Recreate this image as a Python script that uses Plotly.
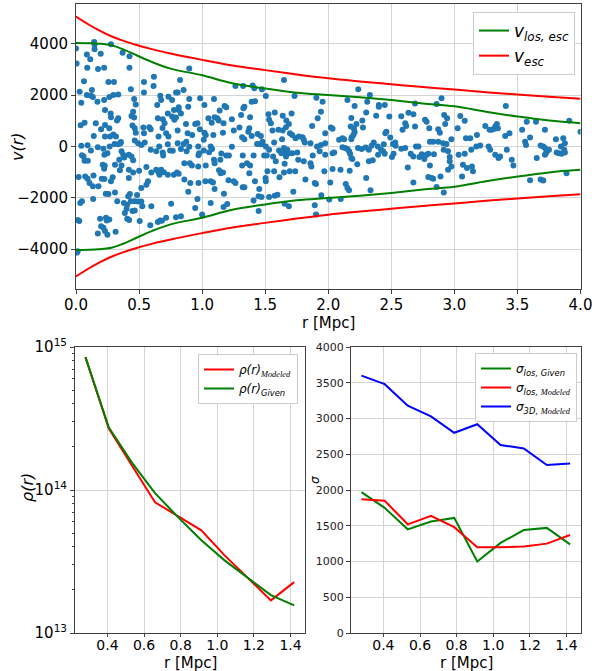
import plotly.graph_objects as go

# ---------------- data ----------------
# galaxy sample (r [Mpc], v [km/s])
galaxy_r_v = [
(0.0,3820),(0.005,3240),(0.086,3590),(0.113,3400),(0.089,3070),(0.144,4080),(0.147,3970),(0.147,3790),
(0.196,3620),(0.277,3990),(0.175,3020),(0.223,3070),(0.369,3660),(0.424,3520),(0.424,3070),(0.063,2550),
(0.257,2520),(0.301,2520),(0.539,2520),(0.618,2720),(0.615,2360),(0.825,2590),(0.898,3040),(0.029,2140),
(0.126,2200),(0.086,2010),(0.118,1980),(0.134,1930),(0.17,1750),(0.223,1810),(0.042,1710),(0.264,1930),
(0.296,2010),(0.335,2030),(0.435,2230),(0.461,1850),(0.474,1640),(0.539,2110),(0.668,1980),(0.644,1620),
(0.675,1810),(0.762,1810),(0.733,1940),(0.793,2110),(0.806,2110),(0.853,2200),(0.984,1880),(0.898,1850),
(0.89,1550),(0.814,1530),(0.814,1420),(0.832,1290),(0.777,1420),(0.728,1290),(0.762,1170),(0.78,1040),
(0.793,1130),(0.23,1420),(0.275,1290),(0.277,1140),(0.23,840),(0.264,710),(0.335,1100),(0.325,1010),
(0.453,1360),(0.44,1190),(0.461,1130),(0.448,820),(0.466,710),(0.474,540),(0.037,830),(0.068,930),
(0.157,910),(0.199,670),(0.141,410),(0.23,390),(0.27,390),(0.296,470),(0.317,390),(0.356,180),
(0.306,100),(0.466,230),(0.539,520),(0.534,740),(0.581,750),(0.592,670),(0.649,1100),(0.688,1060),
(0.702,910),(0.686,720),(0.715,520),(0.733,390),(0.654,390),(0.806,620),(0.872,880),(0.885,520),
(0.921,450),(0.945,880),(0.963,910),(0.874,190),(0.853,100),(0.969,0),(0.976,-260),(0.898,-10),
(0.042,30),(0.092,50),(0.047,-340),(0.06,-390),(0.068,-560),(0.094,-560),(0.118,-160),(0.173,-30),
(0.217,-90),(0.225,-320),(0.249,-260),(0.267,0),(0.335,90),(0.353,130),(0.361,-190),(0.374,-320),
(0.382,-430),(0.343,-520),(0.309,-710),(0.361,-740),(0.419,-320),(0.44,-390),(0.453,-540),(0.492,130),
(0.518,60),(0.545,160),(0.592,-130),(0.636,-190),(0.66,0),(0.688,-230),(0.691,-350),(0.728,90),
(0.746,-160),(0.767,-170),(0.806,130),(0.832,-100),(0.877,-190),(0.859,-650),(0.903,-650),(0.919,-740),
(0.969,-780),(0.971,-340),(0.021,-1190),(0.073,-1170),(0.092,-1260),(0.139,-1130),(0.107,-1420),(0.134,-1550),
(0.204,-1260),(0.225,-1270),(0.212,-710),(0.228,-750),(0.223,-870),(0.291,-1200),(0.277,-1360),(0.348,-930),
(0.419,-910),(0.453,-1010),(0.419,-1230),(0.5,-950),(0.558,-800),(0.597,-1010),(0.636,-910),(0.654,-1000),
(0.675,-910),(0.696,-1000),(0.728,-1100),(0.662,-1100),(0.775,-1100),(0.801,-1010),(0.814,-1060),(0.859,-1290),
(0.906,-1420),(0.971,-1420),(0.571,-1360),(0.558,-1490),(0.518,-1620),(0.484,-1890),(0.427,-1850),(0.414,-1940),
(0.309,-1790),(0.236,-1840),(0.257,-1850),(0.178,-1550),(0.136,-2050),(0.034,-2200),(0.047,-2140),(0.327,-2140),
(0.38,-2200),(0.406,-2270),(0.435,-2140),(0.466,-2140),(0.492,-2150),(0.518,-2150),(0.526,-2330),(0.466,-2500),
(0.387,-2590),(0.401,-2430),(0.448,-2520),(0.597,-2330),(0.754,-2230),(0.89,-1770),(0.963,-2050),(0.945,-2400),
(0.013,-2870),(0.026,-2910),(0.191,-2820),(0.264,-2850),(0.238,-2780),(0.243,-2890),(0.199,-3110),(0.217,-3170),
(0.23,-3300),(0.173,-3390),(0.249,-3440),(0.314,-3330),(0.406,-2820),(0.421,-2870),(0.505,-2910),(0.589,-3070),
(0.649,-2950),(0.668,-2890),(0.681,-2900),(0.715,-2780),(0.793,-2760),(0.832,-2720),(0.013,-4090),(0.008,-4140),
(1.649,2590),(1.264,2360),(1.325,2360),(1.401,2380),(1.414,2270),(1.474,2230),(1.505,1970),(1.094,1850),
(1.018,1620),(1.178,1580),(1.191,1530),(1.139,1400),(1.12,1100),(1.131,1010),(1.05,1100),(1.076,930),
(1.099,1140),(1.236,1060),(1.309,1230),(1.38,1140),(1.335,1550),(1.327,1490),(1.393,1750),(1.419,1770),
(1.526,1260),(1.576,1330),(1.639,1200),(1.709,1290),(1.668,1010),(1.688,880),(1.733,1970),(1.906,1900),
(1.955,1750),(1.942,1360),(1.916,1100),(1.872,800),(1.976,520),(0.982,670),(1.018,540),(1.029,450),
(1.013,260),(1.089,450),(1.165,540),(1.17,910),(1.251,620),(1.296,740),(1.374,710),(1.366,580),
(1.335,280),(1.317,360),(1.393,410),(1.44,490),(1.466,410),(1.455,100),(1.469,90),(1.435,100),
(1.479,190),(1.531,1040),(1.545,910),(1.605,650),(1.639,620),(1.634,280),(1.571,160),(1.558,620),
(1.665,750),(1.696,520),(1.715,450),(1.741,320),(1.767,390),(1.796,360),(1.806,260),(1.814,160),
(1.859,130),(1.068,0),(1.079,-100),(1.013,-160),(1.055,-220),(1.094,-520),(1.099,-650),(1.152,-270),
(1.191,-350),(1.212,-350),(1.236,-10),(1.144,-520),(1.322,-350),(1.356,-650),(1.38,-740),(1.408,-350),
(1.505,0),(1.492,-350),(1.513,-350),(1.531,-130),(1.563,-390),(1.584,-580),(1.61,-160),(1.628,-260),
(1.649,-60),(1.662,-190),(1.675,-130),(1.688,-260),(1.665,-390),(1.654,-670),(1.715,-260),(1.754,-230),
(1.762,-520),(1.806,-580),(1.859,-650),(1.866,-780),(1.877,-350),(1.911,0),(1.942,60),(1.976,130),
(1.976,-320),(1.932,-190),(1.029,-740),(1.134,-930),(1.147,-1040),(1.165,-1010),(1.209,-1320),(1.264,-1420),
(1.317,-740),(1.374,-1040),(1.419,-1360),(1.503,-1230),(1.505,-1360),(1.518,-970),(1.571,-970),(1.613,-1200),
(1.649,-1010),(1.694,-970),(1.738,-970),(1.819,-1290),(1.893,-1420),(1.903,-1460),(1.026,-1360),(1.068,-1360),
(1.086,-1400),(1.099,-1660),(1.173,-1840),(1.251,-1360),(1.322,-1590),(1.335,-1590),(1.453,-1660),(1.448,-1940),
(1.471,-1970),(1.531,-1970),(1.576,-1920),(1.597,-1880),(1.723,-1770),(1.654,-2230),(1.688,-2330),(1.893,-2290),
(1.903,-2650),(1.945,-1900),(1.068,-2200),(1.17,-2360),(1.199,-2240),(1.408,-2110),(1.448,-2520),(1.0,-2650),
(2.238,2230),(2.33,2010),(2.152,1810),(2.309,1750),(2.401,1620),(2.448,1620),(2.401,1550),(2.209,1580),
(2.301,1330),(2.38,1200),(2.484,1170),(2.183,1110),(2.27,1010),(2.223,880),(2.178,780),(2.204,690),
(2.209,560),(2.199,450),(2.186,360),(2.275,740),(2.021,740),(2.034,690),(2.579,1180),(2.636,1320),
(2.675,1260),(2.61,910),(2.618,800),(2.589,650),(2.688,780),(2.688,1680),(2.767,1040),(2.78,970),
(2.801,710),(2.859,1660),(2.898,1880),(2.919,1230),(2.942,1100),(2.927,880),(2.872,670),(2.885,540),
(2.976,280),(2.461,580),(2.453,520),(2.492,350),(2.086,260),(2.113,320),(2.126,280),(2.183,280),
(2.152,-100),(2.165,-190),(2.173,-280),(2.134,-60),(2.113,-30),(2.236,-60),(2.264,-100),(2.296,-40),
(2.322,-130),(2.343,30),(2.361,160),(2.393,0),(2.395,-320),(2.419,-130),(2.435,-190),(2.448,-280),
(2.44,90),(2.513,100),(2.518,-280),(2.531,160),(2.534,30),(2.579,-90),(2.61,-60),(2.505,-410),
(2.654,-280),(2.675,-390),(2.696,0),(2.715,0),(2.723,-410),(2.741,-300),(2.762,-490),(2.78,-320),
(2.793,-280),(2.806,190),(2.832,190),(2.838,-300),(2.872,190),(2.911,130),(2.937,100),(2.916,-130),
(2.95,-190),(2.963,-410),(2.963,-580),(2.976,-780),(2.95,-910),(2.034,-260),(2.047,-230),(2.183,-450),
(2.191,-490),(2.23,-690),(2.322,-580),(2.353,-540),(2.806,-740),(1.969,-970),(2.034,-880),(2.016,-1400),
(2.097,-910),(2.17,-950),(2.301,-1230),(2.631,-820),(2.793,-1190),(2.819,-1230),(2.832,-1260),(2.89,-1170),
(2.675,-1400),(2.139,-1460),(2.152,-1620),(2.165,-1710),(2.335,-1710),(2.008,-2070),(2.099,-2050),(2.859,-1580),
(2.916,-1790),
(3.408,1580),(3.047,1190),(3.082,1000),(3.026,710),(3.245,800),(3.279,650),(3.297,650),(3.318,690),
(3.337,880),(3.324,780),(3.345,710),(3.179,450),(3.092,320),(3.126,320),(3.403,410),(3.437,520),
(3.537,650),(3.574,970),(3.647,970),(3.718,650),(3.6,350),(3.561,190),(3.568,60),(3.911,1000),
(4.0,580),(3.805,280),(3.863,320),(3.876,130),(3.845,0),(3.871,-130),(3.684,40),(3.705,0),
(3.718,-60),(3.737,-170),(3.75,-130),(3.726,-260),(3.718,-320),(3.811,-230),(3.829,-260),(3.85,-280),
(3.876,-230),(3.205,40),(3.174,0),(3.134,-130),(3.271,0),(3.284,-130),(3.324,-320),(3.35,-450),
(3.363,-390),(3.416,-130),(3.455,-520),(3.468,-740),(3.034,-320),(3.082,-280),(3.068,-710),(3.1,-840),
(3.139,-780),(3.147,-970),(3.061,-1170),(3.653,-450),(3.6,-1320),(3.684,-1290),(3.705,-1330),(3.889,-1040),
]
gal_r = [p[0] for p in galaxy_r_v]
gal_v = [p[1] for p in galaxy_r_v]

# escape velocity curves
r_curve = [0.0, 0.1, 0.18, 0.28, 0.36, 0.48, 0.6, 0.75, 1.0, 1.23, 1.5, 1.75, 2.0,
           2.25, 2.5, 2.75, 3.0, 3.25, 3.5, 3.75, 4.0]
v_esc = [5070, 4760, 4540, 4300, 4150, 3960, 3800, 3630, 3380, 3170, 2980, 2810, 2660,
         2540, 2430, 2320, 2220, 2120, 2030, 1940, 1860]
v_los_esc = [4040, 4030, 4010, 3950, 3820, 3560, 3300, 3040, 2780, 2480, 2260, 2100, 2010,
             1920, 1810, 1680, 1570, 1360, 1170, 1010, 910]

# density profile
r_bin = [0.28, 0.407, 0.533, 0.66, 0.787, 0.913, 1.04, 1.167, 1.293, 1.42]
rho_modeled = [8.5e14, 2.70e14, 1.49e14, 8.2e13, 6.55e13, 5.22e13, 3.49e13, 2.42e13, 1.69e13, 2.27e13]
rho_given = [8.5e14, 2.75e14, 1.56e14, 9.5e13, 6.44e13, 4.45e13, 3.22e13, 2.42e13, 1.84e13, 1.56e13]

# velocity dispersion profile
sigma_los_given = [1970, 1750, 1450, 1560, 1610, 1000, 1260, 1440, 1470, 1240]
sigma_los_modeled = [1870, 1850, 1520, 1640, 1480, 1200, 1200, 1210, 1250, 1370]
sigma_3d_modeled = [3600, 3480, 3180, 3030, 2800, 2920, 2630, 2580, 2350, 2370]

# ---------------- figure ----------------
FONT = "DejaVu Sans, sans-serif"
GRID = "#d4d4d4"
AX = "#404040"
GREEN, RED, BLUE, DOT = "#008000", "#ff0000", "#0000ff", "#1f77b4"

fig = go.Figure()

fig.add_trace(go.Scatter(x=gal_r, y=gal_v, mode="markers", showlegend=False,
                         marker=dict(color=DOT, size=6, line=dict(width=0)),
                         xaxis="x", yaxis="y"))
fig.add_trace(go.Scatter(x=r_curve, y=v_los_esc, mode="lines", line=dict(color=GREEN, width=2),
                         name="<i>v<sub>los, esc</sub></i>", legendgroup="g", xaxis="x", yaxis="y",
                         line_shape="spline"))
fig.add_trace(go.Scatter(x=r_curve, y=[-v for v in v_los_esc], mode="lines",
                         line=dict(color=GREEN, width=2), showlegend=False, legendgroup="g",
                         xaxis="x", yaxis="y", line_shape="spline"))
fig.add_trace(go.Scatter(x=r_curve, y=v_esc, mode="lines", line=dict(color=RED, width=2),
                         name="<i>v<sub>esc</sub></i>", legendgroup="r", xaxis="x", yaxis="y",
                         line_shape="spline"))
fig.add_trace(go.Scatter(x=r_curve, y=[-v for v in v_esc], mode="lines",
                         line=dict(color=RED, width=2), showlegend=False, legendgroup="r",
                         xaxis="x", yaxis="y", line_shape="spline"))

SERIF = "<span style='font-family:Liberation Serif;font-style:italic'>"
fig.add_trace(go.Scatter(x=r_bin, y=rho_modeled, mode="lines", line=dict(color=RED, width=2),
                         name="<i>ρ(r)</i><sub>" + SERIF + "Modeled</span></sub>",
                         legend="legend2", xaxis="x2", yaxis="y2"))
fig.add_trace(go.Scatter(x=r_bin, y=rho_given, mode="lines", line=dict(color=GREEN, width=2),
                         name="<i>ρ(r)<sub>Given</sub></i>",
                         legend="legend2", xaxis="x2", yaxis="y2"))

fig.add_trace(go.Scatter(x=r_bin, y=sigma_los_given, mode="lines", line=dict(color=GREEN, width=2),
                         name="<i>σ<sub>los, Given</sub></i>",
                         legend="legend3", xaxis="x3", yaxis="y3"))
fig.add_trace(go.Scatter(x=r_bin, y=sigma_los_modeled, mode="lines", line=dict(color=RED, width=2),
                         name="<i>σ<sub>los, </sub></i><sub>" + SERIF + "Modeled</span></sub>",
                         legend="legend3", xaxis="x3", yaxis="y3"))
fig.add_trace(go.Scatter(x=r_bin, y=sigma_3d_modeled, mode="lines", line=dict(color=BLUE, width=2),
                         name="<i>σ<sub>3D, </sub></i><sub>" + SERIF + "Modeled</span></sub>",
                         legend="legend3", xaxis="x3", yaxis="y3"))

W, H = 592, 671
def px(x):
    return x / W
def py(y):
    return (H - y) / H

common = dict(showline=True, linecolor=AX, linewidth=1, mirror=True, ticks="outside",
              ticklen=4, tickcolor=AX, gridcolor=GRID, gridwidth=1, zeroline=False,
              automargin=False, ticklabeloverflow="allow",
              tickfont=dict(family=FONT, size=15, color="black"))
bottom_x = {**common, "tickfont": dict(family=FONT, size=14, color="black"), "ticklen": 3}

fig.update_layout(
    width=W, height=H, margin=dict(l=0, r=0, t=0, b=0, pad=0), autosize=False,
    paper_bgcolor="white", plot_bgcolor="white",
    font=dict(family=FONT, color="black"),
    xaxis=dict(domain=[px(76), px(580.5)], range=[0, 4], dtick=0.5, tick0=0, tickformat=".1f",
               anchor="y", ticklabelstandoff=-2, **common),
    yaxis=dict(domain=[py(289), py(4)], range=[-5560, 5560], tickvals=[-4000, -2000, 0, 2000, 4000],
               anchor="x", **common),
    xaxis2=dict(domain=[px(75), px(304.6)], range=[0.223, 1.477], tickvals=[0.4, 0.6, 0.8, 1.0, 1.2, 1.4],
                tickformat=".1f", anchor="y2", ticklabelstandoff=-4, **bottom_x),
    yaxis2=dict(domain=[py(633), py(347)], type="log", range=[13, 15],
                tickvals=[1e13, 1e14, 1e15],
                ticktext=["10<sup>13</sup>", "10<sup>14</sup>", "10<sup>15</sup>"],
                minor=dict(ticks="outside", ticklen=2.5, tickcolor=AX, showgrid=False,
                           tickvals=[k * 10 ** e for e in (13, 14) for k in range(2, 10)]),
                anchor="x2", **common),
    xaxis3=dict(domain=[px(351), px(580.5)], range=[0.223, 1.477], tickvals=[0.4, 0.6, 0.8, 1.0, 1.2, 1.4],
                tickformat=".1f", anchor="y3", ticklabelstandoff=-4, **bottom_x),
    yaxis3=dict(domain=[py(633), py(347)], range=[0, 4000], dtick=500, anchor="x3",
                **{**common, "tickfont": dict(family=FONT, size=11, color="#222")}),
    legend=dict(x=px(575), y=py(12), xanchor="right", yanchor="top", bgcolor="white",
                bordercolor="#cccccc", borderwidth=1, font=dict(family=FONT, size=17),
                itemwidth=30, tracegroupgap=0),
    legend2=dict(x=px(298), y=py(354), xanchor="right", yanchor="top", bgcolor="white",
                 bordercolor="#cccccc", borderwidth=1, font=dict(family=FONT, size=12),
                 itemwidth=30),
    legend3=dict(x=px(577), y=py(353), xanchor="right", yanchor="top", bgcolor="white",
                 bordercolor="#cccccc", borderwidth=1, font=dict(family=FONT, size=12),
                 itemwidth=30),
)

ann = [
    dict(text="<i>v(r)</i>", x=px(17), y=py(147), textangle=-90, font=dict(size=16)),
    dict(text="r [Mpc]", x=px(328), y=py(323), font=dict(size=15)),
    dict(text="<i>ρ(r)</i>", x=px(27), y=py(488), textangle=-90, font=dict(size=16)),
    dict(text="r [Mpc]", x=px(190), y=py(663), font=dict(size=15)),
    dict(text="<i>σ</i>", x=px(315), y=py(480), textangle=-90, font=dict(size=12)),
    dict(text="r [Mpc]", x=px(466), y=py(663), font=dict(size=15)),
]
for a in ann:
    fig.add_annotation(xref="paper", yref="paper", showarrow=False, xanchor="center", yanchor="middle",
                       font=dict(family=FONT, color="black", size=a["font"]["size"]),
                       **{k: v for k, v in a.items() if k != "font"})

fig.write_html("out.html", config={"displayModeBar": False},
               post_script="document.body.style.margin='0px';document.body.style.overflow='hidden';")
